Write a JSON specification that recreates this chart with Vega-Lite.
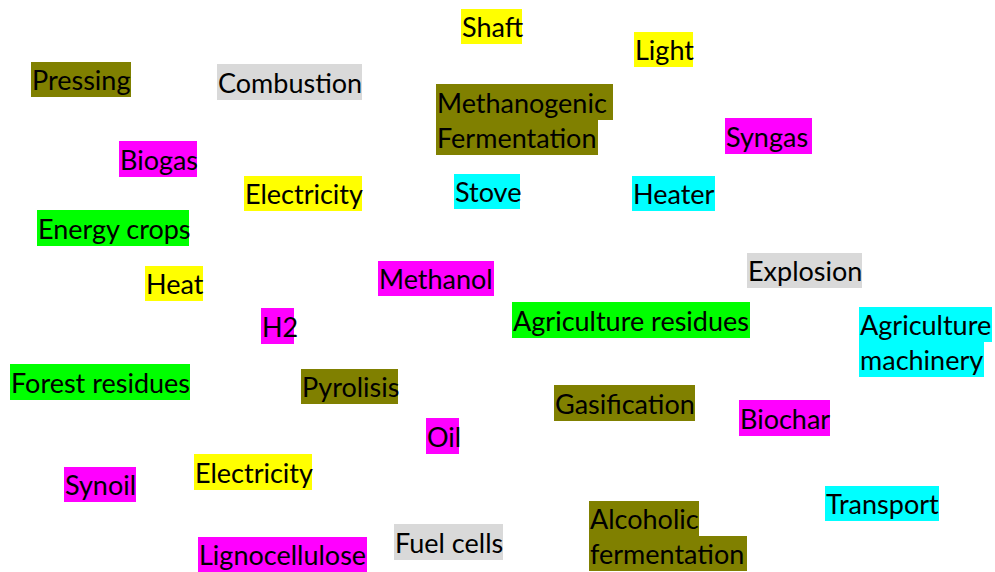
{
  "$schema": "https://vega.github.io/schema/vega-lite/v6.json",
  "width": 995,
  "height": 572,
  "padding": 0,
  "autosize": {"type": "fit", "contains": "padding"},
  "config": {"view": {"stroke": null}},
  "data": {
    "values": [
      {"label": "Shaft", "cat": "yellow", "x1": 461, "x2": 522, "y1": 9, "y2": 44},
      {"label": "Light", "cat": "yellow", "x1": 634, "x2": 693, "y1": 32, "y2": 67},
      {"label": "Pressing", "cat": "olive", "x1": 31, "x2": 131, "y1": 62, "y2": 97},
      {"label": "Combustion", "cat": "grey", "x1": 217, "x2": 362, "y1": 64, "y2": 100},
      {"label": "Methanogenic", "cat": "olive", "x1": 436, "x2": 613, "y1": 84, "y2": 120},
      {"label": "Fermentation", "cat": "olive", "x1": 436, "x2": 598, "y1": 120, "y2": 155},
      {"label": "Syngas", "cat": "magenta", "x1": 725, "x2": 812, "y1": 118, "y2": 154},
      {"label": "Biogas", "cat": "magenta", "x1": 119, "x2": 197, "y1": 141, "y2": 177},
      {"label": "Electricity", "cat": "yellow", "x1": 244, "x2": 362, "y1": 176, "y2": 211},
      {"label": "Stove", "cat": "cyan", "x1": 454, "x2": 520, "y1": 174, "y2": 209},
      {"label": "Heater", "cat": "cyan", "x1": 632, "x2": 715, "y1": 176, "y2": 211},
      {"label": "Energy crops", "cat": "green", "x1": 37, "x2": 189, "y1": 210, "y2": 246},
      {"label": "Explosion", "cat": "grey", "x1": 747, "x2": 862, "y1": 253, "y2": 288},
      {"label": "Heat", "cat": "yellow", "x1": 145, "x2": 203, "y1": 266, "y2": 301},
      {"label": "Methanol", "cat": "magenta", "x1": 378, "x2": 494, "y1": 261, "y2": 296},
      {"label": "Agriculture residues", "cat": "green", "x1": 512, "x2": 750, "y1": 302, "y2": 338},
      {"label": "H2", "cat": "magenta", "x1": 261, "x2": 294, "y1": 308, "y2": 344},
      {"label": "Agriculture", "cat": "cyan", "x1": 859, "x2": 992, "y1": 307, "y2": 342},
      {"label": "machinery", "cat": "cyan", "x1": 859, "x2": 984, "y1": 342, "y2": 377},
      {"label": "Forest residues", "cat": "green", "x1": 10, "x2": 190, "y1": 364, "y2": 400},
      {"label": "Pyrolisis", "cat": "olive", "x1": 301, "x2": 398, "y1": 369, "y2": 404},
      {"label": "Gasification", "cat": "olive", "x1": 554, "x2": 695, "y1": 385, "y2": 421},
      {"label": "Biochar", "cat": "magenta", "x1": 739, "x2": 830, "y1": 400, "y2": 436},
      {"label": "Oil", "cat": "magenta", "x1": 426, "x2": 459, "y1": 418, "y2": 454},
      {"label": "Electricity", "cat": "yellow", "x1": 194, "x2": 312, "y1": 454, "y2": 490},
      {"label": "Synoil", "cat": "magenta", "x1": 64, "x2": 136, "y1": 467, "y2": 502},
      {"label": "Transport", "cat": "cyan", "x1": 825, "x2": 939, "y1": 486, "y2": 521},
      {"label": "Alcoholic", "cat": "olive", "x1": 589, "x2": 699, "y1": 501, "y2": 536},
      {"label": "fermentation", "cat": "olive", "x1": 589, "x2": 747, "y1": 536, "y2": 571},
      {"label": "Fuel cells", "cat": "grey", "x1": 394, "x2": 503, "y1": 524, "y2": 560},
      {"label": "Lignocellulose", "cat": "magenta", "x1": 198, "x2": 367, "y1": 537, "y2": 572}
    ]
  },
  "layer": [
    {
      "mark": {"type": "rect"},
      "encoding": {
        "x": {"field": "x1", "type": "quantitative", "scale": {"domain": [0, 995], "nice": false, "zero": false}, "axis": null},
        "x2": {"field": "x2"},
        "y": {"field": "y1", "type": "quantitative", "scale": {"domain": [0, 572], "nice": false, "zero": false, "reverse": true}, "axis": null},
        "y2": {"field": "y2"},
        "color": {
          "field": "cat",
          "type": "nominal",
          "scale": {
            "domain": ["yellow", "olive", "grey", "magenta", "cyan", "green"],
            "range": ["#ffff00", "#808000", "#d9d9d9", "#ff00ff", "#00ffff", "#00ff00"]
          },
          "legend": null
        }
      }
    },
    {
      "mark": {"type": "text", "align": "left", "baseline": "alphabetic", "dx": 1, "dy": -7, "font": "Lato", "fontSize": 27, "color": "#000000"},
      "encoding": {
        "x": {"field": "x1", "type": "quantitative"},
        "y": {"field": "y2", "type": "quantitative"},
        "text": {"field": "label"}
      }
    }
  ]
}
